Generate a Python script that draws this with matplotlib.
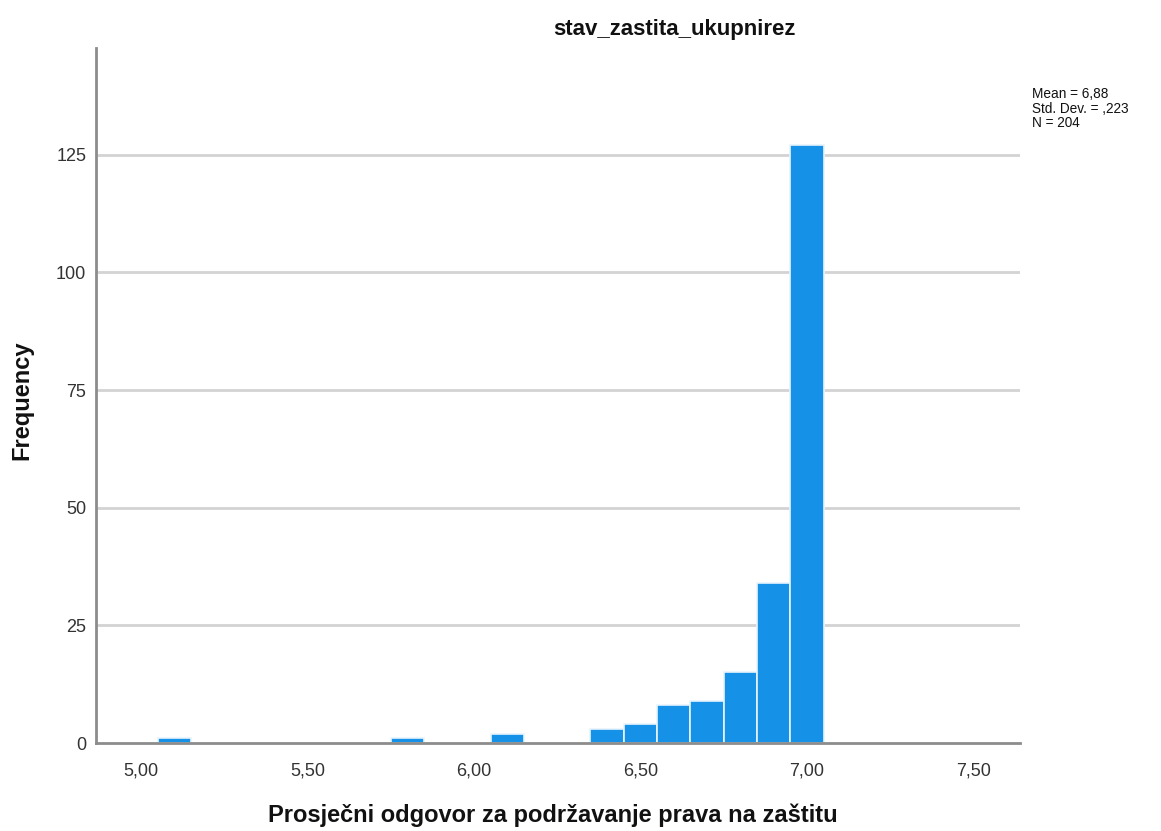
import matplotlib.pyplot as plt

# bin centres (width 0,1) and counts
bin_centers = [5.1, 5.8, 6.1, 6.4, 6.5, 6.6, 6.7, 6.8, 6.9, 7.0]
counts = [1, 1, 2, 3, 4, 8, 9, 15, 34, 127]
bin_width = 0.1

x_ticks = [5.0, 5.5, 6.0, 6.5, 7.0, 7.5]
x_tick_labels = ['5,00', '5,50', '6,00', '6,50', '7,00', '7,50']
y_ticks = [0, 25, 50, 75, 100, 125]

stats_text = 'Mean = 6,88\nStd. Dev. = ,223\nN = 204'

plt.rcParams['font.family'] = ['Liberation Sans', 'DejaVu Sans']

fig = plt.figure(figsize=(11.61, 8.31), dpi=100)
ax = fig.add_axes([96 / 1161, 1 - 743 / 831, (1020 - 96) / 1161, (743 - 48) / 831])

for y in y_ticks[1:]:
    ax.axhline(y, color='#d3d3d3', linewidth=2, zorder=0)

ax.bar(bin_centers, counts, width=bin_width, color='#1591e8',
       edgecolor='#e8f4fd', linewidth=1.2, zorder=2)

ax.set_xlim(4.865, 7.64)
ax.set_ylim(0, 147.7)
ax.set_xticks(x_ticks)
ax.set_xticklabels(x_tick_labels)
ax.set_yticks(y_ticks)
ax.tick_params(length=0, labelsize=13, colors='#333333')
ax.tick_params(axis='y', pad=7)
ax.tick_params(axis='x', pad=14)

for s in ['top', 'right']:
    ax.spines[s].set_visible(False)
for s in ['left', 'bottom']:
    ax.spines[s].set_color('#8c8c8c')
    ax.spines[s].set_linewidth(2)
    ax.spines[s].set_zorder(3)

fig.text(674 / 1161, 1 - 30 / 831, 'stav_zastita_ukupnirez', ha='center', va='center',
         fontsize=16, fontweight='bold', color='#111111')
fig.text(553 / 1161, 1 - 815 / 831, 'Prosječni odgovor za podržavanje prava na zaštitu',
         ha='center', va='center', fontsize=17, fontweight='bold', color='#111111')
fig.text(22 / 1161, 1 - 400 / 831, 'Frequency', ha='center', va='center', rotation=90,
         fontsize=17, fontweight='bold', color='#111111')
fig.text(1032 / 1161, 1 - 87 / 831, stats_text, ha='left', va='top', fontsize=9.8,
         color='#111111', linespacing=1.05)

fig.savefig('out.png', dpi=100)
